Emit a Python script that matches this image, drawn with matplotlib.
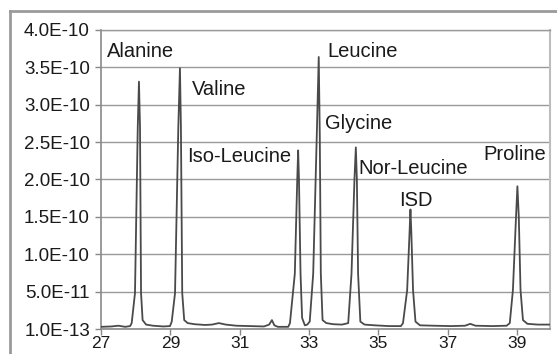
import matplotlib
matplotlib.use("Agg")
import matplotlib.pyplot as plt
from matplotlib.lines import Line2D

# retention time (min)
times = [27.0, 27.3, 27.5, 27.7, 27.84, 27.885, 27.98, 28.06, 28.095, 28.125,
         28.155, 28.20, 28.3, 28.5, 28.8, 28.99, 29.04, 29.135, 29.23, 29.277,
         29.305, 29.343, 29.40, 29.5, 29.7, 30.0, 30.2, 30.4, 30.6, 30.9,
         31.3, 31.7, 31.85, 31.93, 32.0, 32.1, 32.4, 32.45, 32.59, 32.66,
         32.686, 32.71, 32.755, 32.80, 32.88, 32.95, 33.02, 33.12, 33.22, 33.28,
         33.31, 33.34, 33.39, 33.5, 33.7, 33.95, 34.13, 34.225, 34.31, 34.35,
         34.38, 34.415, 34.48, 34.6, 34.9, 35.3, 35.65, 35.71, 35.83, 35.9,
         35.925, 35.95, 36.0, 36.07, 36.2, 36.6, 37.1, 37.5, 37.65, 37.8,
         38.3, 38.7, 38.79, 38.88, 38.97, 39.01, 39.05, 39.10, 39.17, 39.3,
         39.6, 40.0]

# signal (x 1e-10)
signal = [0.03, 0.035, 0.045, 0.03, 0.04, 0.08, 0.48, 2.7, 3.31, 2.7,
          0.48, 0.12, 0.06, 0.045, 0.035, 0.04, 0.1, 0.48, 2.7, 3.49,
          2.7, 0.48, 0.12, 0.08, 0.065, 0.055, 0.06, 0.08, 0.06, 0.045,
          0.04, 0.035, 0.06, 0.12, 0.05, 0.03, 0.03, 0.08, 0.74, 2.0,
          2.39, 2.0, 0.74, 0.15, 0.05, 0.06, 0.1, 0.74, 2.53, 3.64,
          2.6, 0.74, 0.12, 0.08, 0.065, 0.06, 0.08, 0.74, 2.0, 2.43,
          2.0, 0.74, 0.1, 0.06, 0.05, 0.04, 0.04, 0.08, 0.52, 1.3,
          1.60, 1.3, 0.52, 0.1, 0.05, 0.045, 0.04, 0.045, 0.07, 0.045,
          0.04, 0.045, 0.08, 0.52, 1.5, 1.91, 1.5, 0.52, 0.12, 0.07,
          0.06, 0.06]

peak_names = ["Alanine", "Valine", "Iso-Leucine", "Leucine", "Glycine",
              "Nor-Leucine", "ISD", "Proline"]
label_x = [27.17, 29.62, 29.48, 33.54, 33.455, 34.41, 35.59, 38.04]
label_y = [3.64, 3.13, 2.23, 3.64, 2.67, 2.07, 1.64, 2.26]

x_ticks = [27, 29, 31, 33, 35, 37, 39]
y_tick_labels = ["1.0E-13", "5.0E-11", "1.0E-10", "1.5E-10", "2.0E-10",
                 "2.5E-10", "3.0E-10", "3.5E-10", "4.0E-10"]

assert len(times) == len(signal)

plt.rcParams['font.family'] = ['Liberation Sans', 'DejaVu Sans']

W, H = 557, 354
fig = plt.figure(figsize=(W / 100, H / 100), dpi=100)
ax = fig.add_axes([101 / W, (H - 329) / H, (550 - 101) / W, (329 - 30) / H])

# outer frame
fig.add_artist(Line2D([10 / W, 10 / W], [0, (H - 11) / H], transform=fig.transFigure,
                      color="#9a9a9a", lw=2))
fig.add_artist(Line2D([10 / W, 1], [(H - 11) / H, (H - 11) / H], transform=fig.transFigure,
                      color="#9a9a9a", lw=2))

ax.plot(times, [v * 1e-10 for v in signal], color="#4a4a4a", lw=1.3, zorder=3)

y_ticks = [1e-13 + k * 5e-11 for k in range(len(y_tick_labels))]
ax.set_xlim(27, 39.95)
ax.set_ylim(y_ticks[0], y_ticks[-1])
ax.set_yticks(y_ticks)
ax.set_yticklabels(y_tick_labels, fontsize=13.5, color="#1a1a1a")
ax.set_xticks(x_ticks)
ax.set_xticklabels([str(t) for t in x_ticks], fontsize=12.5, color="#1a1a1a")
ax.tick_params(axis="y", length=4, width=1, color="#888888", pad=4)
ax.tick_params(axis="x", length=4, width=1, color="#888888", pad=1)

ax.grid(axis="y", color="#9a9a9a", lw=1)
ax.set_axisbelow(True)
for side in ["left", "bottom"]:
    ax.spines[side].set_color("#8a8a8a")
    ax.spines[side].set_linewidth(1.2)
ax.spines["top"].set_color("#9a9a9a")
ax.spines["top"].set_linewidth(1)
ax.spines["right"].set_color("#bdbdbd")
ax.spines["right"].set_linewidth(1.5)

for name, lx, ly in zip(peak_names, label_x, label_y):
    ax.text(lx, ly * 1e-10, name, fontsize=14.5, color="#1a1a1a",
            ha="left", va="baseline")

fig.savefig("out.png", dpi=100)
